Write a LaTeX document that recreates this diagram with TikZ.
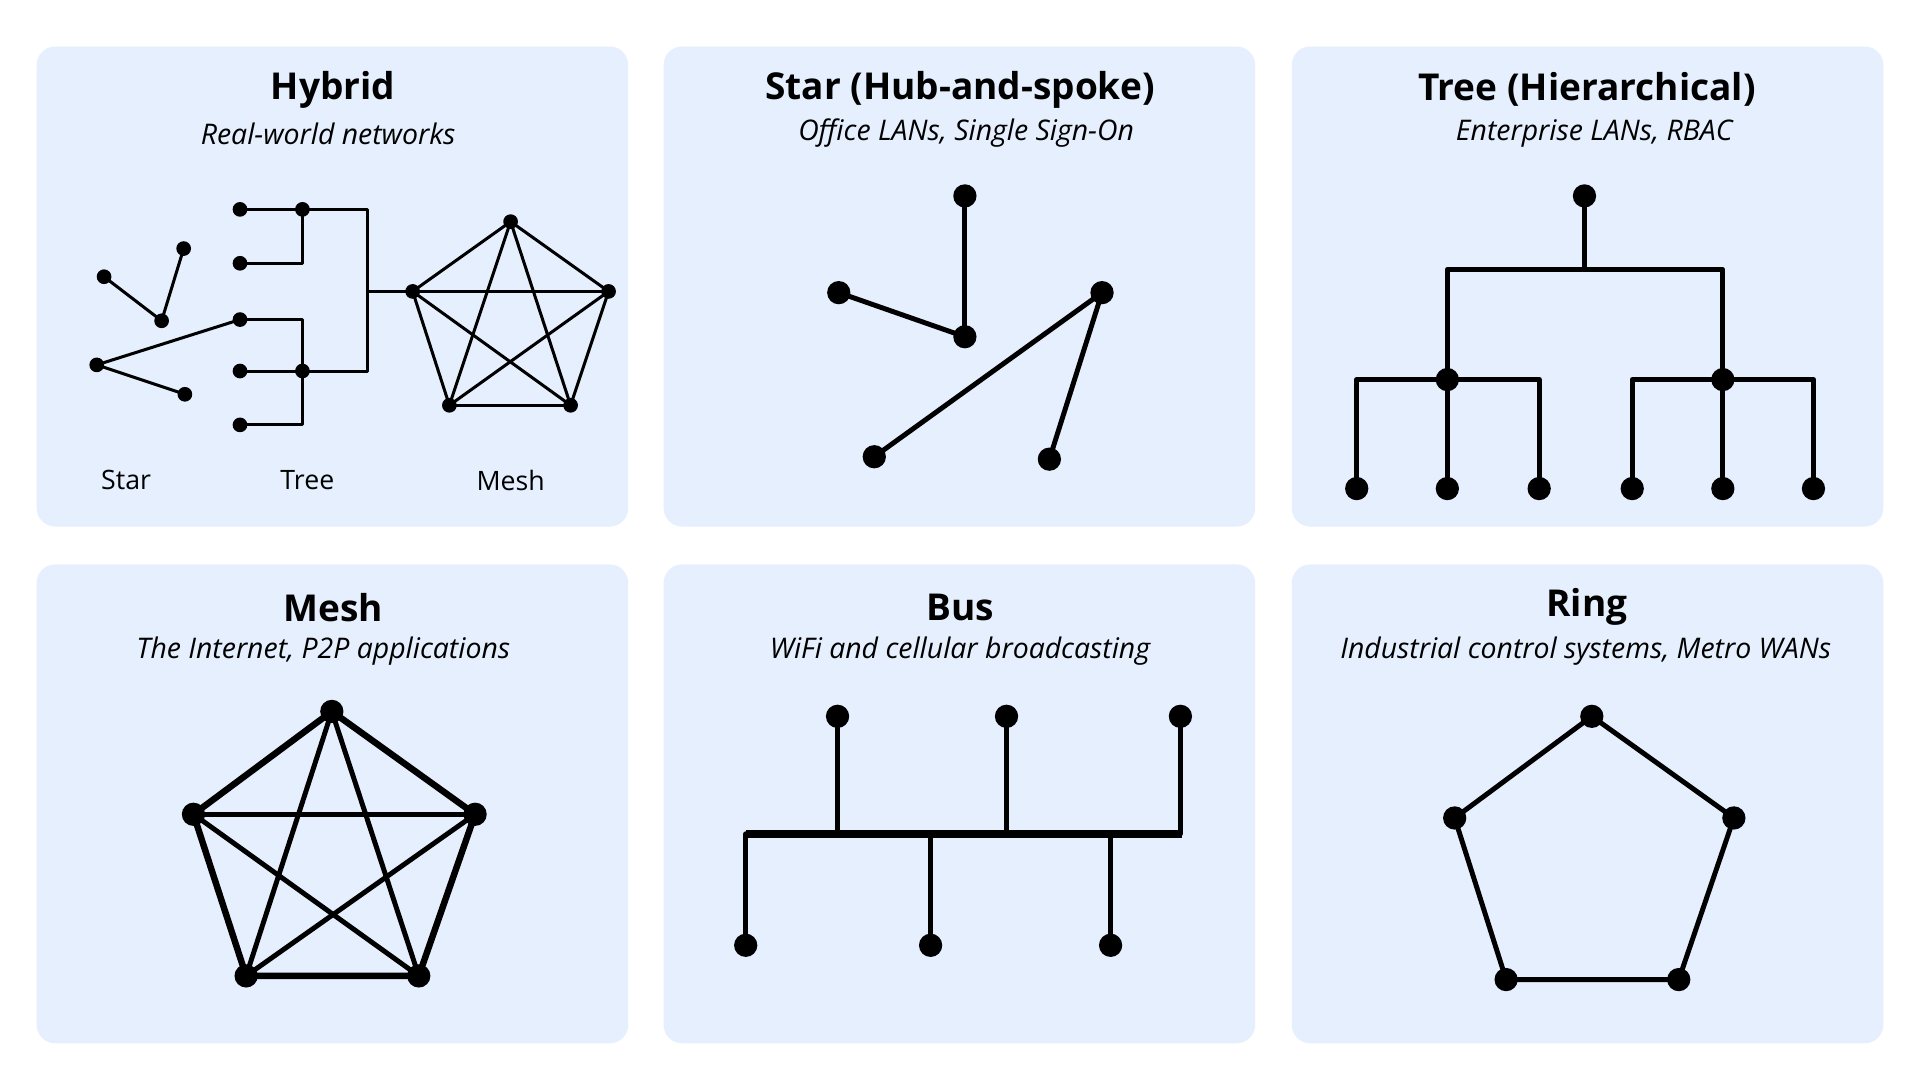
\documentclass[tikz,border=0pt]{standalone}
\usepackage{fontspec}
\setmainfont{Open Sans}
\begin{document}
\begin{tikzpicture}[x=0.01cm,y=-0.01cm,
  panel/.style={fill=panelblue,draw=none,rounded corners=0.15cm},
  ttl/.style={font=\fontsize{8.6}{10}\selectfont\bfseries},
  sub/.style={font=\fontsize{6.6}{8}\selectfont\itshape},
  lbl/.style={font=\fontsize{6.2}{8}\selectfont},
  ln/.style={line width=1.15pt,line cap=round,line join=round},
  thin/.style={line width=0.7pt,line join=round},
  dot/.style={circle,fill=black,inner sep=0pt,minimum size=0.19cm},
  sdot/.style={circle,fill=black,inner sep=0pt,minimum size=0.12cm}]
\definecolor{panelblue}{HTML}{E5EFFD}
\useasboundingbox (0,0) rectangle (1568,882);
\fill[white] (0,0) rectangle (1568,882);
\foreach \x in {30,542,1055}{
  \path[panel] (\x,38) rectangle ++(483,392);
  \path[panel] (\x,461) rectangle ++(483,391);}
% titles
\node[ttl] (t1) at (272,73) {Hybrid};
\node[sub] (s1) at (268,109) {Real-world networks};
\node[ttl] (t2) at (784,73) {Star (Hub-and-spoke)};
\node[sub] (s2) at (789,109) {Office LANs, Single Sign-On};
\node[ttl] (t3) at (1296,73) {Tree (Hierarchical)};
\node[sub] (s3) at (1302,109) {Enterprise LANs, RBAC};
\node[ttl] (t4) at (272,496) {Mesh};
\node[sub] (s4) at (264,532) {The Internet, P2P applications};
\node[ttl] (t5) at (784,496) {Bus};
\node[sub] (s5) at (784,532) {WiFi and cellular broadcasting};
\node[ttl] (t6) at (1296,496) {Ring};
\node[sub] (s6) at (1295,532) {Industrial control systems, Metro WANs};
% hybrid
\node[lbl] (l1) at (103,392) {Star};
\node[lbl] (l2) at (251,392) {Tree};
\node[lbl] (l3) at (417,392) {Mesh};
\node[sdot] (hc) at (132,262) {};
\foreach \n/\p in {a/{85,226},b/{150,203},c/{79,298},d/{151,322}}{
  \node[sdot] (h\n) at (\p) {}; \draw[thin] (hc.center) -- (h\n.center);}
\node[sdot] (ht1) at (196,171) {};
\node[sdot] (ht2) at (247,171) {};
\node[sdot] (ht3) at (196,215) {};
\node[sdot] (hb1) at (196,261) {};
\node[sdot] (hb2) at (247,303) {};
\node[sdot] (hb3) at (196,303) {};
\node[sdot] (hb4) at (196,347) {};
\coordinate (hj) at (300,238);
\draw[thin] (hc.center) -- (hb1.center);
\draw[thin] (ht1.center) -- (300,171) -- (300,303) -- (hb2.center);
\draw[thin] (ht2.center) -- (247,215) -- (ht3.center);
\draw[thin] (hb1.center) -- (247,261) -- (247,347) -- (hb4.center);
\draw[thin] (hb3.center) -- (hb2.center);
\foreach \n/\p in {1/{417,181},2/{497,238},3/{466,331},4/{367,331},5/{337,238}}{
  \node[sdot] (hm\n) at (\p) {};}
\draw[thin] (hj) -- (hm5.center);
\foreach \i in {1,...,5}{\foreach \j in {1,...,5}{
  \ifnum\i<\j \draw[thin] (hm\i.center) -- (hm\j.center);\fi}}
% star
\node[dot] (sc) at (788,275) {};
\foreach \n/\p in {a/{788,160},b/{685,239},c/{900,239},d/{714,373},e/{857,375}}{
  \node[dot] (s\n) at (\p) {}; \draw[ln] (sc.center) -- (s\n.center);}
% tree
\node[dot] (tr) at (1294,160) {};
\node[dot] (tl) at (1182,310) {};
\node[dot] (tR) at (1407,310) {};
\draw[ln] (tr.center) -- (1294,220);
\draw[ln] (tl.center) -- (1182,220) -- (1407,220) -- (tR.center);
\foreach \n/\x in {1/1108,2/1182,3/1257,4/1333,5/1407,6/1481}{
  \node[dot] (tf\n) at (\x,399) {};}
\draw[ln] (tf1.center) -- (1108,310) -- (1257,310) -- (tf3.center);
\draw[ln] (tl.center) -- (tf2.center);
\draw[ln] (tf4.center) -- (1333,310) -- (1481,310) -- (tf6.center);
\draw[ln] (tR.center) -- (tf5.center);
% mesh
\foreach \n/\p in {1/{271,581},2/{388,665},3/{342,797},4/{201,797},5/{158,665}}{
  \node[dot] (m\n) at (\p) {};}
\foreach \i in {1,...,5}{\foreach \j in {1,...,5}{
  \ifnum\i<\j \draw[ln] (m\i.center) -- (m\j.center);\fi}}
\draw[line width=1.5pt,line join=round] (m1.center)--(m2.center)--(m3.center)--(m4.center)--(m5.center)--cycle;
% bus
\coordinate (bl) at (609,681);
\coordinate (br) at (965,681);
\draw[line width=1.8pt] (bl) -- (br);
\foreach \n/\x in {1/684,2/822,3/964}{
  \node[dot] (bu\n) at (\x,585) {}; \draw[ln] (bu\n.center) -- (\x,681);}
\foreach \n/\x in {1/609,2/760,3/907}{
  \node[dot] (bd\n) at (\x,772) {}; \draw[ln] (bd\n.center) -- (\x,681);}
% ring
\foreach \n/\p in {1/{1300,585},2/{1416,668},3/{1371,800},4/{1230,800},5/{1188,668}}{
  \node[dot] (r\n) at (\p) {};}
\draw[ln] (r1.center)--(r2.center)--(r3.center)--(r4.center)--(r5.center)--cycle;
\end{tikzpicture}
\end{document}
